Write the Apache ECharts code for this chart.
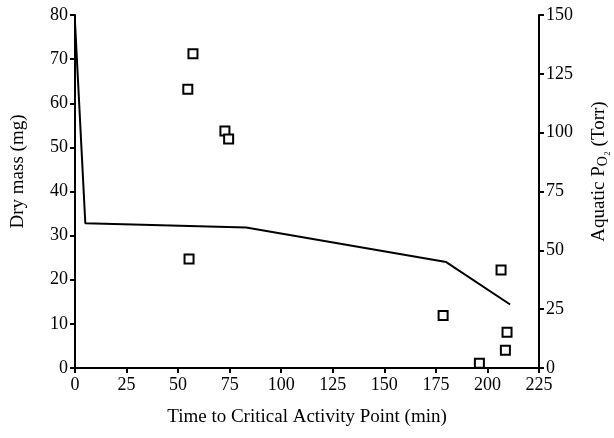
<!DOCTYPE html>
<html><head><meta charset="utf-8">
<script src="https://cdn.jsdelivr.net/npm/echarts@6/dist/echarts.min.js"></script>
<style>html,body{margin:0;padding:0;background:#fff}#c{width:614px;height:438px}</style>
</head><body><div id="c"></div>
<script>
// Dry mass scatter (left axis)
const massTime = [54.7, 57.2, 72.7, 74.5, 55.3, 178.5, 206.6, 209.5, 208.7, 196.1];
const massValue = [63.2, 71.2, 53.7, 51.9, 24.7, 11.9, 22.2, 8.1, 4.0, 1.1];
// Aquatic PO2 line (right axis)
const po2Time = [0, 5, 83, 180, 211];
const po2Value = [147, 61.5, 59.7, 45, 27];
const xTicks = [0, 225, 25];
const leftTicks = [0, 80, 10];
const rightTicks = [0, 150, 25];

const font = 'Liberation Serif';
const ink = '#000';
const chart = echarts.init(document.getElementById('c'));
const axisCommon = {
  axisLine: {show: true, lineStyle: {color: ink, width: 2}},
  axisTick: {show: true, length: 5, lineStyle: {color: ink, width: 2}},
  splitLine: {show: false},
  axisLabel: {color: ink, fontFamily: font, fontSize: 18},
  nameTextStyle: {color: ink, fontFamily: font, fontSize: 19}
};
chart.setOption({
  animation: false,
  backgroundColor: '#fff',
  grid: {left: 75, right: 75, top: 15, bottom: 70, containLabel: false, outerBoundsMode: 'none'},
  xAxis: Object.assign({}, axisCommon, {
    type: 'value', min: xTicks[0], max: xTicks[1], interval: xTicks[2],
    name: 'Time to Critical Activity Point (min)', nameLocation: 'middle', nameGap: 40,
    axisLabel: Object.assign({}, axisCommon.axisLabel, {margin: 8})
  }),
  yAxis: [
    Object.assign({}, axisCommon, {
      type: 'value', position: 'left', min: leftTicks[0], max: leftTicks[1], interval: leftTicks[2],
      name: 'Dry mass (mg)', nameLocation: 'middle', nameGap: 47, nameRotate: 90,
      nameTextStyle: Object.assign({}, axisCommon.nameTextStyle, {padding: [0, 0, 0, 40]}),
      axisLabel: Object.assign({}, axisCommon.axisLabel, {margin: 7})
    }),
    Object.assign({}, axisCommon, {
      type: 'value', position: 'right', min: rightTicks[0], max: rightTicks[1], interval: rightTicks[2],
      name: 'Aquatic P{s|O₂} (Torr)', nameLocation: 'middle', nameGap: 50, nameRotate: 90,
      nameTextStyle: Object.assign({}, axisCommon.nameTextStyle, {
        padding: [0, 0, 0, 40],
        rich: {s: {fontFamily: font, fontSize: 14, color: ink, padding: [7, 0, 0, 0]}}
      }),
      axisLabel: Object.assign({}, axisCommon.axisLabel, {margin: 7})
    })
  ],
  series: [
    {
      type: 'scatter', yAxisIndex: 0, symbol: 'rect', symbolSize: 9,
      itemStyle: {color: '#fff', borderColor: ink, borderWidth: 2, opacity: 1},
      data: massTime.map((t, i) => [t, massValue[i]])
    },
    {
      type: 'line', yAxisIndex: 1, showSymbol: false, symbol: 'none',
      lineStyle: {color: ink, width: 2},
      data: po2Time.map((t, i) => [t, po2Value[i]])
    }
  ]
});
</script></body></html>
